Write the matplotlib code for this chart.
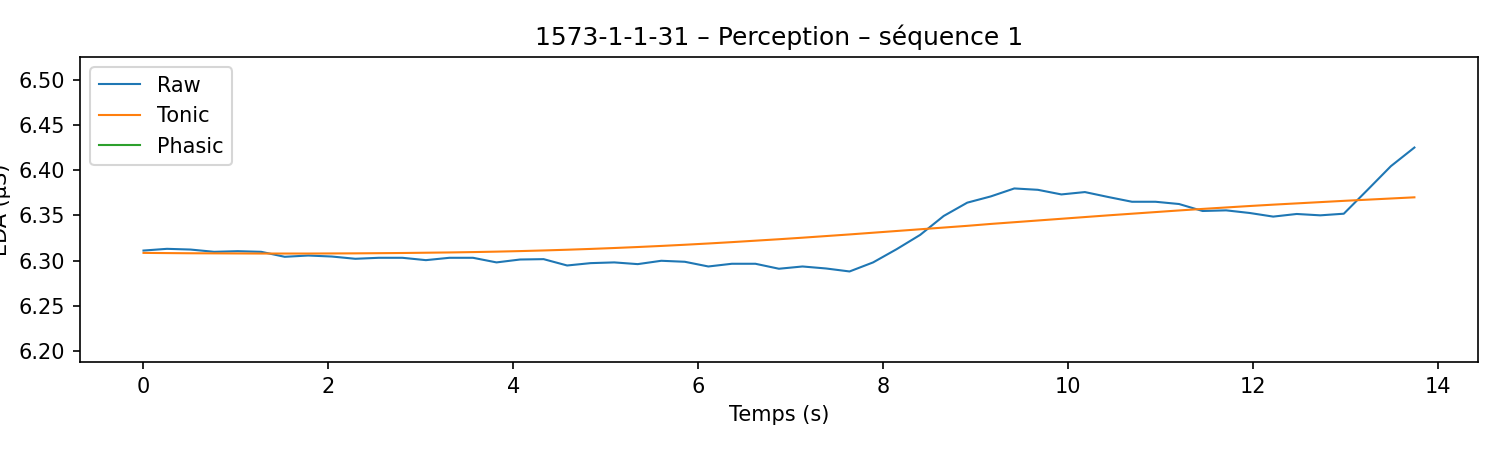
import numpy as np
import matplotlib
matplotlib.use("Agg")
import matplotlib.pyplot as plt

# -----------------------
# Data (55 samples over 13.75 s)
# -----------------------
duration = 13.75
raw = [6.3111, 6.3130, 6.3122, 6.3097, 6.3104, 6.3097, 6.3042, 6.3056, 6.3045, 6.3020,
       6.3031, 6.3031, 6.3005, 6.3031, 6.3031, 6.2980, 6.3012, 6.3016, 6.2946, 6.2972,
       6.2980, 6.2961, 6.2998, 6.2987, 6.2935, 6.2965, 6.2965, 6.2910, 6.2935, 6.2913,
       6.2880, 6.2980, 6.3126, 6.3284, 6.3493, 6.3640, 6.3709, 6.3797, 6.3782, 6.3731,
       6.3757, 6.3702, 6.3650, 6.3650, 6.3625, 6.3548, 6.3555, 6.3526, 6.3486, 6.3515,
       6.3500, 6.3518, 6.3779, 6.4043, 6.4249]
tonic = [6.3085, 6.3083, 6.3081, 6.3080, 6.3079, 6.3078, 6.3078, 6.3078, 6.3079, 6.3080,
         6.3082, 6.3084, 6.3087, 6.3090, 6.3094, 6.3099, 6.3105, 6.3112, 6.3120, 6.3129,
         6.3139, 6.3150, 6.3162, 6.3175, 6.3189, 6.3204, 6.3220, 6.3236, 6.3253, 6.3271,
         6.3289, 6.3308, 6.3327, 6.3346, 6.3365, 6.3384, 6.3405, 6.3424, 6.3443, 6.3462,
         6.3481, 6.3500, 6.3518, 6.3536, 6.3554, 6.3571, 6.3587, 6.3603, 6.3618, 6.3632,
         6.3646, 6.3660, 6.3673, 6.3686, 6.3699]

title = "1573-1-1-31 \u2013 Perception \u2013 s\u00e9quence 1"

raw = np.array(raw)
tonic = np.array(tonic)
phasic = raw - tonic  # sits near 0, outside the visible range
t = np.linspace(0, duration, len(raw))

fig, ax = plt.subplots(figsize=(10, 3), dpi=150)
fig.subplots_adjust(left=0.0533, right=0.9853, top=0.8733, bottom=0.1956)

ax.plot(t, raw, lw=1, label="Raw")
ax.plot(t, tonic, lw=1, label="Tonic")
ax.plot(t, phasic, lw=1, label="Phasic")

ax.set_ylim(raw.min() - 0.1, raw.max() + 0.1)
ax.set_xlabel("Temps (s)")
ax.set_ylabel("EDA (\u00b5S)")
ax.set_title(title)
ax.legend(loc="upper left")

fig.savefig("out.png", dpi=150)
